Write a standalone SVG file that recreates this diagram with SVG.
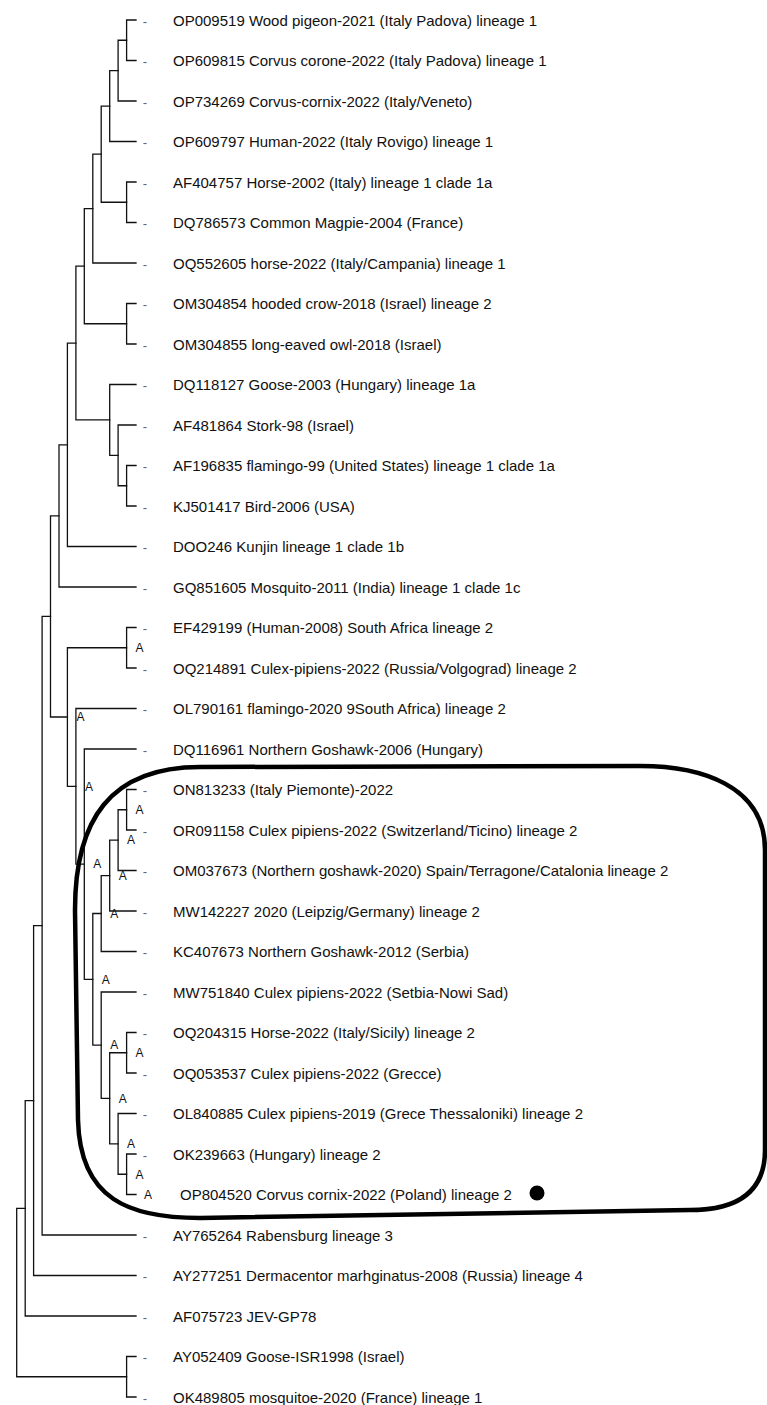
<svg xmlns="http://www.w3.org/2000/svg" width="767" height="1405" viewBox="0 0 767 1405">
<style>
text{font-family:"Liberation Sans",Arial,sans-serif}
.lbl{font-size:15px;fill:#111}
.dash{font-size:13px;fill:#666;text-anchor:middle}
.sup{font-size:12px;fill:#111;text-anchor:middle}
.br{fill:none;stroke:#111;stroke-width:1.3;stroke-linecap:square}
.hl{fill:none;stroke:#000;stroke-width:4.5}
</style>
<rect width="767" height="1405" fill="#fff"/>
<g id="connectors">
<path class="br" d="M136,20 H126.6 V60.5 H136"/>
<path class="br" d="M126.6,40.25 H118.1 V101 H136"/>
<path class="br" d="M118.1,70.6 H109.7 V141.5 H136"/>
<path class="br" d="M136,182 H126.6 V222.5 H136"/>
<path class="br" d="M109.7,106.05 H101.2 V202.25 H126.6"/>
<path class="br" d="M101.2,154.15 H92.8 V263 H136"/>
<path class="br" d="M136,303.5 H126.6 V344 H136"/>
<path class="br" d="M92.8,208.6 H84.3 V323.75 H126.6"/>
<path class="br" d="M136,465.5 H126.6 V506 H136"/>
<path class="br" d="M136,425 H118.1 V485.75 H126.6"/>
<path class="br" d="M136,384.5 H109.7 V455.4 H118.1"/>
<path class="br" d="M84.3,266.2 H75.9 V419.95 H109.7"/>
<path class="br" d="M75.9,343.1 H67.4 V546.5 H136"/>
<path class="br" d="M67.4,444.8 H59 V587 H136"/>
<path class="br" d="M136,627.5 H126.6 V668 H136"/>
<path class="br" d="M136,789.5 H126.6 V830 H136"/>
<path class="br" d="M126.6,809.75 H118.1 V870.5 H136"/>
<path class="br" d="M118.1,840.1 H109.7 V911 H136"/>
<path class="br" d="M109.7,875.6 H101.2 V951.5 H136"/>
<path class="br" d="M136,1032.5 H126.6 V1073 H136"/>
<path class="br" d="M136,1154 H126.6 V1194.5 H136"/>
<path class="br" d="M136,1113.5 H118.1 V1174.25 H126.6"/>
<path class="br" d="M126.6,1052.75 H109.7 V1143.9 H118.1"/>
<path class="br" d="M136,992 H101.2 V1098.3 H109.7"/>
<path class="br" d="M101.2,913.5 H92.8 V1045.15 H101.2"/>
<path class="br" d="M136,749 H84.3 V979.3 H92.8"/>
<path class="br" d="M136,708.5 H75.9 V864.15 H84.3"/>
<path class="br" d="M126.6,647.75 H67.4 V786.3 H75.9"/>
<path class="br" d="M59,515.9 H50.5 V717 H67.4"/>
<path class="br" d="M50.5,616.45 H42.1 V1235 H136"/>
<path class="br" d="M42.1,925.7 H33.6 V1275.5 H136"/>
<path class="br" d="M33.6,1100.6 H25.2 V1316 H136"/>
<path class="br" d="M136,1356.5 H126.6 V1397 H136"/>
<path class="br" d="M25.2,1208.3 H16.7 V1376.75 H126.6"/>
</g>
<g id="support">
<g id="n15"><text class="sup" x="139.6" y="652">A</text></g>
<g id="n16"><text class="sup" x="80.4" y="721.3">A</text></g>
<g id="n17"><text class="sup" x="88.9" y="790.6">A</text></g>
<g id="n28"><text class="sup" x="139.6" y="814">A</text></g>
<g id="n27"><text class="sup" x="131.1" y="844.4">A</text></g>
<g id="n23"><text class="sup" x="97.3" y="868.4">A</text></g>
<g id="n26"><text class="sup" x="122.7" y="879.9">A</text></g>
<g id="n25"><text class="sup" x="114.2" y="917.8">A</text></g>
<g id="n24"><text class="sup" x="105.8" y="983.6">A</text></g>
<g id="n30"><text class="sup" x="114.2" y="1049.4">A</text></g>
<g id="n32"><text class="sup" x="139.6" y="1057">A</text></g>
<g id="n31"><text class="sup" x="122.7" y="1102.6">A</text></g>
<g id="n33"><text class="sup" x="131.1" y="1148.2">A</text></g>
<g id="n34"><text class="sup" x="139.6" y="1178.5">A</text></g>
</g>
<g id="leaves">
<g id="leaf-OP009519" transform="translate(0,20)"><text class="dash" x="145" y="5.5">-</text><text class="lbl" x="173" y="5.5">OP009519 Wood pigeon-2021 (Italy Padova) lineage 1</text></g>
<g id="leaf-OP609815" transform="translate(0,60.5)"><text class="dash" x="145" y="5.5">-</text><text class="lbl" x="173" y="5.5">OP609815 Corvus corone-2022 (Italy Padova) lineage 1</text></g>
<g id="leaf-OP734269" transform="translate(0,101)"><text class="dash" x="145" y="5.5">-</text><text class="lbl" x="173" y="5.5">OP734269 Corvus-cornix-2022 (Italy/Veneto)</text></g>
<g id="leaf-OP609797" transform="translate(0,141.5)"><text class="dash" x="145" y="5.5">-</text><text class="lbl" x="173" y="5.5">OP609797 Human-2022 (Italy Rovigo) lineage 1</text></g>
<g id="leaf-AF404757" transform="translate(0,182)"><text class="dash" x="145" y="5.5">-</text><text class="lbl" x="173" y="5.5">AF404757 Horse-2002 (Italy) lineage 1 clade 1a</text></g>
<g id="leaf-DQ786573" transform="translate(0,222.5)"><text class="dash" x="145" y="5.5">-</text><text class="lbl" x="173" y="5.5">DQ786573 Common Magpie-2004 (France)</text></g>
<g id="leaf-OQ552605" transform="translate(0,263)"><text class="dash" x="145" y="5.5">-</text><text class="lbl" x="173" y="5.5">OQ552605 horse-2022 (Italy/Campania) lineage 1</text></g>
<g id="leaf-OM304854" transform="translate(0,303.5)"><text class="dash" x="145" y="5.5">-</text><text class="lbl" x="173" y="5.5">OM304854 hooded crow-2018 (Israel) lineage 2</text></g>
<g id="leaf-OM304855" transform="translate(0,344)"><text class="dash" x="145" y="5.5">-</text><text class="lbl" x="173" y="5.5">OM304855 long-eaved owl-2018 (Israel)</text></g>
<g id="leaf-DQ118127" transform="translate(0,384.5)"><text class="dash" x="145" y="5.5">-</text><text class="lbl" x="173" y="5.5">DQ118127 Goose-2003 (Hungary) lineage 1a</text></g>
<g id="leaf-AF481864" transform="translate(0,425)"><text class="dash" x="145" y="5.5">-</text><text class="lbl" x="173" y="5.5">AF481864 Stork-98 (Israel)</text></g>
<g id="leaf-AF196835" transform="translate(0,465.5)"><text class="dash" x="145" y="5.5">-</text><text class="lbl" x="173" y="5.5">AF196835 flamingo-99 (United States) lineage 1 clade 1a</text></g>
<g id="leaf-KJ501417" transform="translate(0,506)"><text class="dash" x="145" y="5.5">-</text><text class="lbl" x="173" y="5.5">KJ501417 Bird-2006 (USA)</text></g>
<g id="leaf-DOO246" transform="translate(0,546.5)"><text class="dash" x="145" y="5.5">-</text><text class="lbl" x="173" y="5.5">DOO246 Kunjin lineage 1 clade 1b</text></g>
<g id="leaf-GQ851605" transform="translate(0,587)"><text class="dash" x="145" y="5.5">-</text><text class="lbl" x="173" y="5.5">GQ851605 Mosquito-2011 (India) lineage 1 clade 1c</text></g>
<g id="leaf-EF429199" transform="translate(0,627.5)"><text class="dash" x="145" y="5.5">-</text><text class="lbl" x="173" y="5.5">EF429199 (Human-2008) South Africa lineage 2</text></g>
<g id="leaf-OQ214891" transform="translate(0,668)"><text class="dash" x="145" y="5.5">-</text><text class="lbl" x="173" y="5.5">OQ214891 Culex-pipiens-2022 (Russia/Volgograd) lineage 2</text></g>
<g id="leaf-OL790161" transform="translate(0,708.5)"><text class="dash" x="145" y="5.5">-</text><text class="lbl" x="173" y="5.5">OL790161 flamingo-2020 9South Africa) lineage 2</text></g>
<g id="leaf-DQ116961" transform="translate(0,749)"><text class="dash" x="145" y="5.5">-</text><text class="lbl" x="173" y="5.5">DQ116961 Northern Goshawk-2006 (Hungary)</text></g>
<g id="leaf-ON813233" transform="translate(0,789.5)"><text class="dash" x="145" y="5.5">-</text><text class="lbl" x="173" y="5.5">ON813233 (Italy Piemonte)-2022</text></g>
<g id="leaf-OR091158" transform="translate(0,830)"><text class="dash" x="145" y="5.5">-</text><text class="lbl" x="173" y="5.5">OR091158 Culex pipiens-2022 (Switzerland/Ticino) lineage 2</text></g>
<g id="leaf-OM037673" transform="translate(0,870.5)"><text class="dash" x="145" y="5.5">-</text><text class="lbl" x="173" y="5.5">OM037673 (Northern goshawk-2020) Spain/Terragone/Catalonia lineage 2</text></g>
<g id="leaf-MW142227" transform="translate(0,911)"><text class="dash" x="145" y="5.5">-</text><text class="lbl" x="173" y="5.5">MW142227 2020 (Leipzig/Germany) lineage 2</text></g>
<g id="leaf-KC407673" transform="translate(0,951.5)"><text class="dash" x="145" y="5.5">-</text><text class="lbl" x="173" y="5.5">KC407673 Northern Goshawk-2012 (Serbia)</text></g>
<g id="leaf-MW751840" transform="translate(0,992)"><text class="dash" x="145" y="5.5">-</text><text class="lbl" x="173" y="5.5">MW751840 Culex pipiens-2022 (Setbia-Nowi Sad)</text></g>
<g id="leaf-OQ204315" transform="translate(0,1032.5)"><text class="dash" x="145" y="5.5">-</text><text class="lbl" x="173" y="5.5">OQ204315 Horse-2022 (Italy/Sicily) lineage 2</text></g>
<g id="leaf-OQ053537" transform="translate(0,1073)"><text class="dash" x="145" y="5.5">-</text><text class="lbl" x="173" y="5.5">OQ053537 Culex pipiens-2022 (Grecce)</text></g>
<g id="leaf-OL840885" transform="translate(0,1113.5)"><text class="dash" x="145" y="5.5">-</text><text class="lbl" x="173" y="5.5">OL840885 Culex pipiens-2019 (Grece Thessaloniki) lineage 2</text></g>
<g id="leaf-OK239663" transform="translate(0,1154)"><text class="dash" x="145" y="5.5">-</text><text class="lbl" x="173" y="5.5">OK239663 (Hungary) lineage 2</text></g>
<g id="leaf-OP804520" transform="translate(0,1194.5)"><text class="sup" x="148" y="4.3">A</text><text class="lbl" x="180" y="5.5">OP804520 Corvus cornix-2022 (Poland) lineage 2</text></g>
<g id="leaf-AY765264" transform="translate(0,1235)"><text class="dash" x="145" y="5.5">-</text><text class="lbl" x="173" y="5.5">AY765264 Rabensburg lineage 3</text></g>
<g id="leaf-AY277251" transform="translate(0,1275.5)"><text class="dash" x="145" y="5.5">-</text><text class="lbl" x="173" y="5.5">AY277251 Dermacentor marhginatus-2008 (Russia) lineage 4</text></g>
<g id="leaf-AF075723" transform="translate(0,1316)"><text class="dash" x="145" y="5.5">-</text><text class="lbl" x="173" y="5.5">AF075723 JEV-GP78</text></g>
<g id="leaf-AY052409" transform="translate(0,1356.5)"><text class="dash" x="145" y="5.5">-</text><text class="lbl" x="173" y="5.5">AY052409 Goose-ISR1998 (Israel)</text></g>
<g id="leaf-OK489805" transform="translate(0,1397)"><text class="dash" x="145" y="5.5">-</text><text class="lbl" x="173" y="5.5">OK489805 mosquitoe-2020 (France) lineage 1</text></g>
</g>
<g id="highlight">
<path class="hl" d="M200,767 L640,766 C700,766 765,785 765,850 L765,1150 C765,1190 740,1210 690,1210 L200,1218 C130,1218 80,1200 78,1120 L75,910 C75,820 110,767 200,767 Z"/>
<circle cx="537" cy="1193" r="7.5" fill="#000"/>
</g>
</svg>
